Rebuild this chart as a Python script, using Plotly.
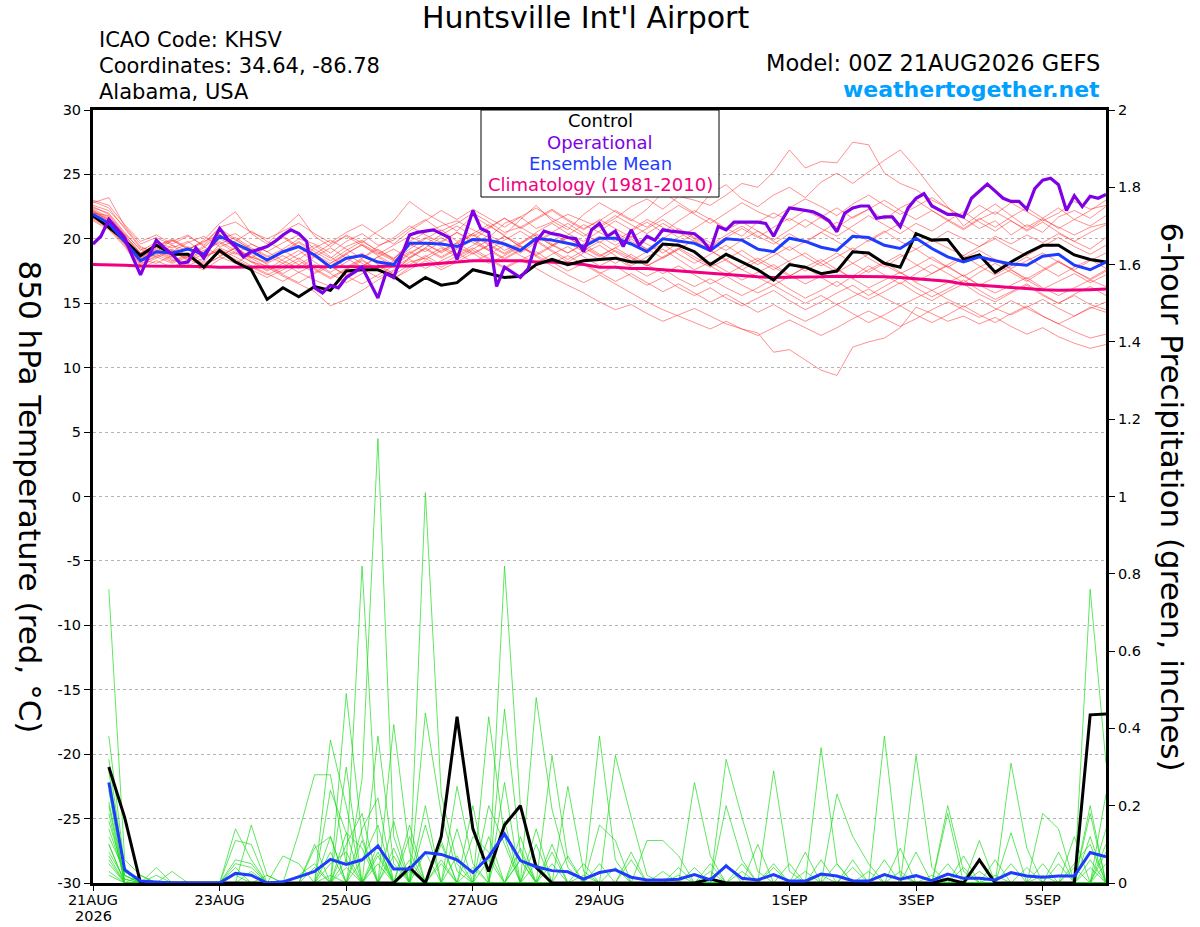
"""
GEFS 集合预报图：850 hPa 温度 + 6 小时降水 (KHSV)
"""

import pandas as pd
import plotly.graph_objects as go

# ---------------- 数据 ----------------
RUN_START = "2026-08-21 00:00"
RUN_END = "2026-09-06 00:00"

tick_dates = ["2026-08-21", "2026-08-23", "2026-08-25", "2026-08-27",
              "2026-08-29", "2026-09-01", "2026-09-03", "2026-09-05"]
tick_labels = ["21AUG", "23AUG", "25AUG", "27AUG",
               "29AUG", "1SEP", "3SEP", "5SEP"]
first_tick_year = "2026"

temp_ticks = [-30, -25, -20, -15, -10, -5, 0, 5, 10, 15, 20, 25, 30]
precip_ticks = [0, 0.2, 0.4, 0.6, 0.8, 1.0, 1.2, 1.4, 1.6, 1.8, 2.0]
precip_tick_labels = ["0", "0.2", "0.4", "0.6", "0.8", "1",
                      "1.2", "1.4", "1.6", "1.8", "2"]

# 6 小时间隔, 00Z 21AUG -> 00Z 6SEP (65 个时次)
control_temp = [
    21.8, 20.9, 19.9, 18.7, 19.5, 18.8, 18.8, 17.8, 19.1, 18.2,
    17.6, 15.3, 16.2, 15.5, 16.3, 16.0, 17.5, 17.6, 17.6, 17.1,
    16.2, 17.0, 16.4, 16.6, 17.6, 17.3, 17.0, 17.1, 18.0, 18.4,
    18.0, 18.3, 18.4, 18.5, 18.2, 18.2, 19.6, 19.5, 19.0, 18.0,
    18.8, 18.2, 17.6, 16.8, 18.0, 17.8, 17.3, 17.5, 19.0, 18.9,
    18.1, 17.8, 20.4, 19.9, 19.95, 18.4, 18.75, 17.4, 18.2, 18.9,
    19.5, 19.5, 18.75, 18.4, 18.2]

mean_temp = [
    21.9, 21.2, 19.8, 18.3, 19.0, 18.9, 19.2, 18.8, 20.2, 19.6,
    19.05, 18.35, 19.0, 19.4, 18.75, 17.8, 18.5, 18.7, 18.2, 18.0,
    19.65, 19.65, 19.6, 19.4, 19.95, 19.9, 19.6, 19.1, 20.05, 19.9,
    19.65, 19.4, 20.05, 20.05, 19.6, 19.0, 20.0, 19.8, 19.65, 19.1,
    20.0, 19.9, 19.2, 19.0, 20.05, 19.8, 19.35, 19.1, 20.2, 20.1,
    19.5, 19.25, 20.05, 19.25, 18.6, 18.2, 18.6, 18.3, 18.05, 17.95,
    18.65, 18.8, 17.95, 17.6, 18.2]

clim_temp = [
    18.0, 18.0, 17.95, 17.9, 17.9, 17.85, 17.85, 17.85, 17.8, 17.8,
    17.8, 17.8, 17.8, 17.8, 17.8, 17.8, 17.8, 17.8, 17.85, 17.9,
    17.9, 18.0, 18.1, 18.2, 18.3, 18.3, 18.3, 18.3, 18.2, 18.2,
    18.1, 18.0, 17.8, 17.8, 17.7, 17.7, 17.6, 17.5, 17.4, 17.3,
    17.2, 17.1, 17.05, 17.0, 17.0, 17.0, 17.05, 17.1, 17.1, 17.1,
    17.05, 17.0, 16.9, 16.8, 16.7, 16.5, 16.4, 16.3, 16.2, 16.1,
    16.05, 16.0, 16.0, 16.05, 16.1]

# 业务模式 (operational) 为 3 小时间隔 (129 个时次)
op_temp = [
    19.6, 20.2, 21.5, 20.8, 20.1, 18.6, 17.2, 18.6, 19.9, 19.3,
    18.8, 18.1, 18.2, 19.3, 18.5, 19.6, 20.8, 20.0, 19.4, 18.6,
    19.0, 19.2, 19.4, 19.8, 20.3, 20.7, 20.4, 19.8, 16.2, 15.8,
    16.4, 16.2, 17.0, 17.4, 17.8, 16.6, 15.4, 17.3, 17.0, 18.7,
    20.3, 20.5, 20.6, 20.7, 20.4, 20.1, 18.4, 20.3, 22.2, 20.8,
    20.5, 16.3, 17.8, 17.4, 17.0, 17.7, 19.8, 20.6, 20.4, 20.3,
    20.1, 20.0, 19.0, 20.7, 21.2, 20.2, 20.6, 19.4, 20.7, 19.5,
    20.2, 19.9, 20.7, 20.6, 20.55, 20.5, 20.4, 19.9, 19.1, 20.95,
    20.7, 21.3, 21.3, 21.3, 21.3, 21.2, 20.2, 21.4, 22.4, 22.3,
    22.2, 22.1, 21.8, 21.4, 20.55, 22.0, 22.4, 22.55, 22.55, 21.6,
    21.7, 21.7, 20.95, 22.4, 23.15, 23.5, 22.55, 22.2, 21.9, 21.9,
    21.7, 23.15, 23.7, 24.25, 23.7, 23.15, 22.9, 22.9, 22.3, 23.9,
    24.55, 24.7, 24.2, 22.2, 23.35, 22.5, 23.3, 23.15, 23.45]

# 集合成员 850 hPa 温度 (红色细线)
temp_members = [
    [22.4, 22.0, 20.5, 19.1, 19.7, 19.3, 19.8, 18.9, 20.0, 20.4, 19.6,
     19.0, 19.7, 20.3, 19.2, 18.5, 19.4, 19.9, 19.0, 18.4, 19.8, 20.5,
     21.0, 21.4, 20.7, 20.1, 21.2, 21.7, 20.8, 21.3, 21.9, 21.4, 20.9,
     21.6, 22.5, 23.1, 22.3, 23.3, 23.0, 22.6, 23.4, 24.3, 24.0, 25.2,
     26.9, 25.5, 26.0, 25.9, 27.5, 27.3, 25.1, 24.3, 23.8, 23.0, 22.4,
     21.6, 20.8, 21.4, 20.3, 21.1, 20.5, 21.7, 22.2, 21.6, 22.5],
    [22.8, 23.2, 21.0, 19.6, 20.1, 19.5, 19.1, 19.9, 21.2, 22.1, 20.4,
     19.6, 20.8, 21.9, 20.2, 19.4, 20.3, 19.7, 20.6, 21.4, 22.9, 22.0,
     21.3, 20.6, 21.8, 21.0, 20.3, 21.5, 22.6, 21.4, 20.7, 21.9, 22.8,
     22.1, 21.4, 22.3, 23.6, 22.8, 22.0, 23.5, 24.2, 23.1, 22.5, 23.4,
     24.0, 23.2, 24.4, 25.1, 24.3, 25.2, 26.1, 26.9, 25.5, 23.9, 22.5,
     21.0, 21.9, 22.7, 21.8, 20.9, 21.6, 22.4, 21.5, 22.2, 23.0],
    [22.1, 21.5, 20.2, 18.8, 19.4, 19.8, 20.3, 19.4, 20.6, 19.9, 19.2,
     18.6, 19.2, 20.0, 19.6, 18.9, 19.8, 20.4, 19.5, 19.9, 20.8, 21.5,
     20.6, 21.2, 22.0, 21.3, 20.5, 20.9, 21.6, 22.3, 21.5, 20.8, 21.4,
     22.2, 21.5, 20.9, 21.8, 22.6, 21.9, 21.2, 22.0, 22.8, 22.1, 21.6,
     22.4, 23.1, 22.5, 21.8, 22.7, 23.4, 22.6, 21.9, 22.5, 23.2, 22.4,
     21.7, 22.6, 21.9, 22.8, 22.1, 21.4, 22.0, 22.9, 22.3, 22.6],
    [21.8, 21.0, 19.6, 18.0, 18.7, 19.5, 18.6, 19.3, 20.4, 19.2, 18.5,
     19.4, 20.1, 19.3, 18.6, 17.9, 18.8, 19.6, 18.9, 18.3, 19.2, 20.0,
     20.7, 19.8, 20.4, 21.1, 20.2, 19.6, 20.5, 21.2, 20.4, 19.8, 20.6,
     21.4, 20.7, 21.5, 20.9, 20.1, 20.8, 21.6, 20.8, 20.2, 21.3, 22.0,
     21.4, 22.2, 21.6, 20.9, 21.7, 22.3, 21.5, 22.4, 23.0, 22.2, 21.5,
     20.8, 21.6, 20.9, 21.7, 22.4, 21.6, 20.8, 21.5, 21.0, 21.8],
    [22.6, 22.2, 20.9, 19.4, 18.9, 19.0, 19.7, 20.2, 19.4, 19.8, 20.6,
     19.8, 19.1, 18.4, 19.3, 19.9, 19.2, 18.5, 19.4, 20.1, 21.0, 20.3,
     19.7, 20.5, 19.9, 20.8, 21.6, 20.9, 20.2, 19.5, 20.3, 21.1, 20.5,
     19.8, 20.6, 21.3, 20.5, 21.4, 22.2, 21.5, 20.7, 21.3, 20.6, 19.9,
     20.7, 21.5, 20.8, 20.2, 21.0, 21.8, 21.1, 20.4, 21.2, 20.6, 21.4,
     22.1, 21.3, 20.6, 21.4, 20.7, 21.5, 20.9, 20.3, 20.9, 21.2],
    [21.6, 21.3, 20.0, 18.5, 19.3, 18.6, 18.9, 18.2, 19.6, 20.1, 19.3,
     18.7, 18.1, 18.8, 19.5, 18.6, 17.8, 18.5, 19.2, 18.4, 19.6, 19.0,
     19.8, 20.5, 19.7, 19.1, 19.9, 20.6, 19.8, 20.5, 21.2, 20.4, 19.7,
     20.5, 19.8, 19.2, 20.0, 20.8, 20.1, 19.5, 20.3, 21.0, 20.2, 19.6,
     20.4, 19.7, 20.5, 21.3, 20.6, 19.8, 20.5, 21.2, 20.4, 19.8, 20.6,
     20.0, 19.4, 20.2, 19.6, 20.3, 19.7, 20.4, 19.8, 19.2, 20.1],
    [22.3, 21.7, 20.3, 18.9, 19.6, 19.1, 18.4, 19.0, 19.8, 19.1, 18.6,
     18.2, 18.9, 19.7, 18.8, 18.1, 18.9, 19.5, 18.7, 18.0, 18.9, 19.6,
     19.0, 19.7, 20.4, 19.6, 18.9, 19.6, 20.3, 19.5, 18.9, 19.6, 20.2,
     19.5, 20.2, 19.6, 18.9, 19.7, 20.4, 19.7, 19.1, 19.9, 20.6, 19.8,
     19.1, 19.8, 20.5, 19.8, 19.1, 19.9, 20.6, 19.8, 19.2, 19.9, 19.3,
     18.7, 19.4, 20.0, 19.3, 18.7, 19.4, 20.1, 19.4, 18.8, 19.5],
    [21.5, 20.8, 19.5, 17.9, 18.5, 19.1, 18.3, 18.8, 20.0, 19.4, 18.3,
     17.6, 18.4, 19.1, 18.2, 17.4, 18.2, 18.9, 18.0, 17.3, 18.6, 19.3,
     18.6, 19.3, 20.0, 19.2, 18.5, 19.2, 19.9, 19.1, 18.4, 19.1, 19.8,
     19.0, 18.3, 19.0, 19.6, 18.8, 18.1, 18.8, 19.5, 18.7, 18.0, 18.7,
     19.4, 18.6, 17.9, 18.6, 19.3, 18.5, 17.8, 18.6, 19.2, 18.4, 17.8,
     18.5, 19.1, 18.4, 17.7, 18.3, 18.9, 18.2, 17.6, 18.3, 18.9],
    [22.0, 21.4, 19.9, 18.6, 19.2, 18.5, 19.4, 18.6, 19.3, 18.8, 19.6,
     19.0, 18.3, 17.7, 18.6, 19.3, 18.5, 17.8, 18.6, 19.2, 18.5, 19.3,
     20.1, 19.4, 18.8, 19.5, 20.2, 19.4, 18.7, 19.4, 20.1, 19.3, 18.6,
     19.3, 20.0, 19.2, 18.5, 19.2, 19.9, 19.1, 18.4, 17.6, 18.3, 19.0,
     18.2, 17.5, 18.2, 18.9, 18.1, 17.4, 18.1, 18.8, 18.0, 17.3, 18.0,
     18.7, 17.9, 17.2, 17.9, 18.6, 17.8, 17.1, 17.8, 18.4, 17.7],
    [22.9, 22.4, 20.8, 19.3, 19.0, 19.9, 19.2, 19.7, 20.8, 20.0, 19.1,
     18.4, 19.0, 19.8, 19.0, 18.3, 19.1, 19.8, 19.1, 18.5, 19.4, 20.1,
     19.4, 18.8, 19.5, 20.3, 19.6, 18.9, 19.7, 20.4, 19.7, 19.0, 18.4,
     19.1, 18.5, 17.9, 18.6, 19.3, 18.6, 17.9, 17.2, 17.9, 18.5, 17.8,
     17.1, 17.8, 18.4, 17.6, 16.9, 17.6, 18.2, 17.4, 16.7, 17.3, 17.9,
     17.1, 16.4, 17.0, 17.6, 16.8, 16.1, 16.7, 17.3, 16.6, 17.2],
    [21.7, 21.1, 19.7, 18.2, 18.8, 18.2, 18.7, 18.0, 18.6, 18.1, 18.8,
     18.0, 17.3, 18.0, 18.7, 17.9, 17.2, 17.9, 18.6, 17.8, 18.5, 19.2,
     18.5, 19.2, 19.9, 19.1, 18.4, 19.1, 19.8, 19.0, 18.2, 18.9, 19.5,
     18.7, 17.9, 18.6, 19.2, 18.4, 17.6, 18.2, 17.5, 16.8, 17.4, 18.0,
     17.2, 16.5, 17.1, 17.7, 16.9, 16.2, 16.8, 17.4, 16.6, 16.0, 16.6,
     17.2, 16.4, 15.8, 16.4, 17.0, 16.2, 15.6, 16.2, 16.8, 16.3],
    [22.2, 21.6, 20.1, 18.4, 18.1, 18.7, 18.0, 17.6, 18.4, 19.0, 18.2,
     17.5, 18.1, 17.4, 16.8, 16.3, 17.0, 17.7, 17.0, 17.6, 18.4, 17.7,
     18.3, 18.9, 18.2, 18.8, 19.5, 18.7, 18.1, 18.8, 19.4, 18.6, 17.9,
     18.5, 17.8, 17.1, 17.7, 16.9, 16.3, 16.9, 16.2, 15.6, 16.2, 16.9,
     16.1, 15.4, 16.0, 16.7, 15.9, 15.3, 15.9, 16.6, 15.8, 15.2, 15.9,
     16.5, 15.7, 15.1, 15.8, 16.4, 15.6, 15.0, 15.7, 16.3, 15.6],
    [21.9, 21.2, 19.8, 18.7, 19.4, 20.0, 19.3, 18.6, 19.1, 18.4, 17.8,
     17.2, 17.8, 18.5, 17.7, 17.0, 17.7, 18.4, 17.6, 16.9, 17.8, 18.6,
     19.3, 18.6, 19.2, 19.9, 19.1, 19.7, 20.4, 19.6, 18.9, 19.6, 18.8,
     18.1, 18.8, 18.0, 17.3, 17.9, 17.2, 16.5, 17.1, 16.4, 15.8, 16.4,
     15.7, 15.0, 15.6, 14.9, 15.5, 16.1, 15.4, 14.8, 15.4, 16.0, 15.3,
     14.7, 15.3, 14.6, 14.1, 14.7, 15.3, 14.6, 14.0, 14.6, 15.1],
    [22.5, 21.9, 20.4, 19.2, 18.6, 19.2, 18.5, 19.1, 19.7, 18.9, 18.2,
     17.9, 17.2, 16.6, 17.3, 17.9, 17.1, 16.5, 17.2, 17.9, 18.8, 19.6,
     18.9, 19.6, 20.3, 19.5, 18.8, 19.5, 18.7, 18.1, 18.7, 18.0, 17.3,
     17.9, 17.1, 16.4, 17.0, 16.2, 15.6, 16.2, 15.4, 14.8, 15.4, 16.0,
     15.2, 14.5, 15.1, 15.8, 16.4, 15.6, 16.3, 17.0, 16.2, 15.5, 16.1,
     16.8, 16.0, 15.3, 15.9, 16.5, 15.7, 15.0, 15.6, 14.9, 14.5],
    [21.4, 20.7, 19.4, 17.7, 18.3, 17.8, 18.4, 17.9, 18.6, 19.3, 18.5,
     17.8, 17.1, 16.5, 15.9, 14.8, 15.3, 16.0, 16.8, 17.5, 18.2, 18.5,
     17.8, 18.4, 19.1, 18.4, 17.7, 18.3, 19.0, 18.2, 17.5, 18.1, 17.4,
     16.7, 17.3, 16.6, 15.9, 16.5, 15.8, 15.1, 15.7, 15.0, 14.3, 14.9,
     14.2, 13.6, 14.2, 14.9, 14.2, 13.5, 14.1, 14.8, 14.1, 13.5, 14.1,
     14.8, 14.1, 13.5, 14.2, 14.8, 14.0, 13.4, 14.0, 14.7, 14.3],
    [23.0, 22.6, 21.1, 19.8, 20.3, 19.6, 20.2, 19.5, 20.9, 21.3, 20.5,
     20.0, 20.6, 21.2, 20.4, 19.7, 20.5, 21.1, 20.3, 19.6, 20.6, 21.4,
     22.2, 21.5, 22.3, 21.6, 20.9, 21.7, 22.4, 21.6, 20.9, 20.2, 21.0,
     21.8, 21.1, 20.4, 21.2, 20.5, 19.8, 19.1, 18.3, 17.6, 17.0, 16.4,
     17.1, 17.8, 17.0, 16.3, 17.1, 17.9, 17.2, 16.5, 17.3, 18.0, 17.3,
     16.6, 17.4, 18.1, 17.4, 16.7, 17.5, 18.2, 17.5, 16.9, 17.6],
    [22.0, 21.8, 20.3, 18.9, 19.5, 19.9, 19.2, 19.8, 20.3, 19.5, 18.9,
     19.5, 20.2, 19.4, 18.8, 19.6, 20.2, 19.5, 18.8, 19.5, 20.2, 19.6,
     20.3, 21.0, 20.2, 20.9, 21.6, 20.8, 21.5, 22.2, 21.4, 20.7, 21.5,
     20.8, 20.1, 20.8, 21.5, 20.7, 20.0, 19.4, 20.1, 20.8, 20.1, 20.9,
     21.6, 20.9, 21.7, 22.4, 21.6, 22.3, 23.0, 22.2, 21.5, 22.2, 21.4,
     20.7, 21.5, 22.1, 21.4, 20.6, 21.3, 20.5, 19.8, 20.5, 21.1],
    [21.6, 20.9, 19.6, 18.1, 18.6, 18.1, 18.6, 18.1, 18.9, 18.3, 17.6,
     17.0, 17.6, 18.3, 17.6, 16.9, 17.6, 18.3, 17.6, 16.9, 17.6, 18.3,
     17.6, 18.2, 18.9, 18.1, 18.7, 19.4, 18.6, 17.9, 17.2, 16.6, 17.2,
     16.5, 15.8, 15.1, 14.5, 14.0, 13.5, 13.0, 13.6, 13.0, 12.5, 13.1,
     13.7, 13.1, 12.5, 13.1, 13.8, 14.4, 13.8, 13.2, 13.8, 14.5, 15.1,
     14.5, 13.9, 14.5, 15.2, 14.6, 14.0, 13.4, 12.8, 12.3, 12.6],
    [22.1, 21.5, 20.1, 18.5, 19.1, 18.4, 17.9, 18.5, 19.2, 18.6, 17.9,
     17.3, 16.7, 17.4, 18.0, 17.3, 16.6, 17.3, 17.9, 17.2, 18.0, 18.7,
     18.0, 18.7, 19.3, 18.5, 17.8, 18.4, 17.7, 17.0, 16.4, 15.8, 15.1,
     14.5, 14.9, 14.2, 13.6, 14.1, 14.6, 14.0, 13.4, 13.0, 12.7, 11.2,
     11.4, 10.6, 9.8, 9.4, 11.6, 12.0, 12.3, 13.1, 14.7, 14.2, 13.6,
     14.0, 13.4, 13.9, 13.2, 12.6, 13.1, 12.4, 11.9, 11.5, 11.8],
    [22.2, 21.3, 19.9, 18.4, 19.0, 18.3, 18.8, 19.4, 18.7, 19.3, 18.6,
     18.1, 18.7, 18.0, 17.4, 18.1, 18.8, 18.1, 17.5, 18.3, 19.0, 18.4,
     19.1, 19.7, 18.9, 19.5, 20.2, 19.4, 18.8, 19.5, 20.1, 19.4, 18.7,
     19.3, 18.6, 17.9, 18.5, 19.2, 18.4, 17.8, 18.4, 19.1, 18.3, 17.6,
     18.3, 18.9, 18.1, 17.4, 18.1, 18.8, 18.0, 17.3, 17.9, 18.6, 17.8,
     17.1, 17.8, 18.4, 17.6, 16.9, 17.6, 18.3, 17.5, 16.8, 17.5],
]

# 6 小时降水, 06Z 21AUG -> 00Z 6SEP (64 个时次)
control_precip = [
    .30, .17, 0, 0, 0, 0, 0, 0, 0, 0, 0, 0, 0, 0, 0, 0,
    0, 0, 0, .04, 0, .12, .43, .14, .03, .15, .20, .04, 0, 0, 0, 0,
    0, 0, 0, 0, 0, 0, .01, 0, 0, 0, 0, 0, 0, 0, 0, 0,
    0, 0, 0, 0, 0, .01, 0, .06, 0, 0, 0, 0, 0, 0, .435, .437]

mean_precip = [
    .26, .034, .005, .003, 0, 0, 0, 0, .025, .02, 0, .003, .016, .03, .061, .048,
    .06, .096, .036, .036, .079, .074, .06, .027, .068, .127, .058, .042, .032, .029, .01, .027,
    .034, .015, .008, .008, .01, .022, .008, .044, .012, .008, .022, .005, .005, .023, .018, .006,
    .005, .022, .01, .019, .006, .023, .012, .012, .008, .027, .018, .015, .018, .018, .079, .068]

# 集合成员降水 (绿色细线)
precip_members = [
    [.76, .06, .02, 0, 0, 0, 0, 0, 0, 0, 0, 0, 0, 0, 0, 0,
     .27, 1.15, .12, 0, 0, 0, 0, 0, 0, 0, 0, .05, 0, 0, 0, 0,
     0, 0, 0, 0, 0, 0, 0, 0, 0, 0, .29, .03, 0, 0, 0, 0,
     0, 0, 0, 0, 0, 0, 0, 0, 0, 0, 0, 0, 0, 0, .76, .31],
    [.38, .04, 0, 0, 0, 0, 0, 0, 0, 0, 0, 0, 0, 0, .37, .2,
     0, 0, 0, 0, 1.01, .23, .05, 0, 0, 0, 0, 0, 0, 0, 0, .38,
     .06, 0, 0, 0, 0, 0, 0, 0, 0, 0, 0, 0, 0, 0, 0, 0,
     0, 0, 0, 0, 0, .2, .03, 0, 0, 0, 0, 0, 0, 0, 0, 0],
    [.32, .03, 0, 0, 0, 0, 0, 0, .14, .06, 0, 0, 0, 0, 0, .49,
     .12, 0, 0, 0, 0, 0, 0, 0, 0, .82, .2, .05, 0, 0, 0, 0,
     0, 0, 0, 0, 0, 0, 0, 0, 0, 0, 0, 0, 0, .35, .05, 0,
     0, 0, 0, 0, 0, 0, 0, 0, 0, 0, 0, 0, 0, 0, 0, 0],
    [.29, .02, 0, 0, 0, 0, 0, 0, 0, 0, 0, 0, .13, .28, .28, .05,
     .82, .1, 0, 0, 0, 0, 0, 0, 0, 0, 0, 0, .33, .06, 0, 0,
     0, 0, 0, 0, 0, 0, 0, 0, 0, 0, 0, 0, 0, 0, 0, 0,
     0, .38, .02, 0, 0, 0, 0, 0, 0, 0, 0, 0, 0, 0, 0, 0],
    [.24, 0, 0, .04, 0, 0, 0, 0, 0, .15, .02, 0, 0, 0, 0, 0,
     0, .38, .05, 0, 0, 0, 0, 0, .43, .12, 0, 0, 0, 0, 0, 0,
     0, 0, 0, 0, 0, 0, 0, .32, .17, .03, 0, 0, 0, 0, 0, 0,
     0, 0, 0, 0, 0, 0, 0, 0, 0, 0, 0, 0, 0, 0, 0, .23],
    [.21, .01, 0, 0, 0, 0, 0, 0, 0, 0, 0, 0, 0, 0, .24, .13,
     0, 0, .41, .08, 0, 0, 0, 0, 0, 0, 0, .48, .19, .04, 0, 0,
     0, 0, 0, 0, 0, 0, 0, 0, 0, 0, 0, 0, 0, 0, 0, 0,
     0, 0, 0, 0, 0, 0, 0, 0, 0, .31, .09, 0, 0, 0, 0, 0],
    [.16, .02, 0, 0, 0, 0, 0, 0, .11, .1, 0, 0, 0, 0, 0, 0,
     0, 0, 0, 0, .44, .18, .03, 0, 0, 0, 0, 0, 0, 0, 0, 0,
     .33, .17, .02, 0, 0, 0, 0, 0, 0, 0, 0, 0, 0, 0, 0, 0,
     0, 0, 0, .33, .04, 0, 0, 0, 0, 0, 0, 0, 0, 0, 0, 0],
    [.12, .03, 0, 0, .03, 0, 0, 0, 0, 0, 0, 0, 0, .09, .12, 0,
     0, 0, 0, 0, 0, 0, .25, .05, 0, .45, .08, 0, 0, 0, 0, 0,
     0, 0, 0, 0, 0, .26, .07, 0, 0, 0, 0, 0, 0, 0, 0, 0,
     0, 0, 0, 0, 0, 0, 0, 0, 0, 0, 0, .18, .14, 0, 0, 0],
    [.1, 0, 0, 0, 0, 0, 0, 0, .05, .04, 0, 0, 0, 0, 0, .13,
     .09, 0, 0, 0, 0, 0, 0, 0, 0, 0, .12, 0, 0, .25, .03, 0,
     0, 0, 0, 0, 0, 0, 0, 0, 0, 0, 0, 0, 0, 0, .23, .12,
     .05, 0, 0, 0, 0, 0, 0, 0, 0, 0, 0, 0, 0, 0, .18, 0],
    [.08, .01, 0, 0, 0, 0, 0, 0, 0, 0, 0, .07, .05, 0, 0, 0,
     .06, .15, 0, 0, 0, .1, 0, 0, 0, 0, 0, 0, 0, 0, 0, .15,
     .11, 0, 0, 0, 0, 0, 0, .2, .06, 0, 0, 0, 0, 0, 0, 0,
     0, 0, 0, 0, 0, .18, 0, .11, 0, 0, 0, 0, 0, .12, 0, 0],
    [.05, 0, 0, 0, 0, 0, 0, 0, .06, .05, 0, 0, 0, 0, .05, .08,
     0, 0, 0, .06, 0, 0, 0, .12, .08, 0, 0, 0, 0, 0, 0, 0,
     0, 0, .11, .11, .07, 0, 0, 0, 0, 0, .05, 0, 0, 0, 0, 0,
     0, 0, 0, 0, 0, 0, 0, 0, 0, .13, 0, 0, 0, .05, .1, 0],
    [.2, 0, .02, 0, 0, 0, 0, 0, 0, 0, 0, 0, .02, .05, 0, 0,
     0, .07, 0, 0, .15, 0, .07, 0, 0, 0, 0, 0, 0, 0, 0, 0,
     0, .06, 0, 0, 0, 0, 0, 0, 0, .1, 0, 0, .08, 0, 0, .04,
     0, 0, 0, 0, 0, 0, 0, 0, .06, 0, 0, 0, .05, 0, 0, .1],
    [.14, .02, 0, 0, 0, 0, 0, 0, 0, 0, 0, 0, 0, 0, 0, .1,
     .18, 0, .07, 0, 0, 0, 0, 0, .06, 0, .09, 0, .1, 0, 0, 0,
     0, 0, 0, 0, 0, 0, .05, 0, 0, 0, 0, 0, .03, 0, 0, 0,
     0, 0, .09, 0, 0, 0, .07, 0, 0, 0, 0, 0, 0, 0, .12, 0],
    [.06, 0, 0, 0, 0, 0, 0, 0, .04, 0, 0, 0, 0, 0, .12, 0,
     0, .05, 0, .12, 0, .05, 0, 0, 0, 0, 0, .14, 0, 0, .05, 0,
     0, 0, 0, 0, .04, 0, 0, 0, 0, 0, 0, .05, 0, 0, 0, 0,
     .03, 0, 0, 0, 0, 0, 0, .06, 0, 0, .04, 0, 0, 0, 0, .14],
    [.03, 0, 0, 0, 0, 0, 0, 0, 0, 0, 0, 0, 0, .04, 0, 0,
     .14, .22, 0, 0, .08, 0, 0, .04, 0, .16, 0, 0, 0, .07, 0, 0,
     0, 0, 0, .03, 0, 0, 0, 0, .05, 0, 0, 0, 0, .06, 0, 0,
     0, 0, 0, 0, .02, 0, 0, 0, 0, 0, 0, .05, 0, 0, .06, 0],
    [.18, 0, 0, .02, 0, 0, 0, 0, 0, .03, 0, 0, 0, 0, 0, .06,
     0, 0, .16, 0, 0, .11, 0, 0, .2, .1, 0, 0, 0, 0, 0, .05,
     0, 0, 0, 0, 0, .04, 0, 0, 0, 0, 0, 0, 0, 0, .05, 0,
     0, 0, 0, 0, 0, .05, 0, 0, 0, 0, 0, 0, .08, 0, 0, .05],
    [.1, 0, 0, 0, 0, 0, 0, 0, 0, 0, .02, 0, 0, 0, .02, 0,
     .11, 0, 0, .03, 0, 0, .14, 0, 0, 0, .06, 0, .05, 0, 0, 0,
     0, .08, 0, 0, 0, 0, 0, 0, 0, 0, .04, 0, 0, 0, 0, 0,
     0, .06, 0, 0, 0, 0, 0, 0, 0, .05, 0, 0, 0, .04, 0, 0],
    [.26, .04, 0, 0, 0, 0, 0, 0, 0, 0, 0, 0, 0, .1, 0, .3,
     0, .08, 0, 0, .2, 0, 0, 0, .12, 0, 0, 0, .08, 0, 0, 0,
     0, 0, 0, 0, .02, 0, 0, .05, 0, 0, 0, 0, 0, 0, 0, 0,
     0, 0, 0, .08, 0, 0, 0, .03, 0, 0, 0, 0, 0, 0, .2, 0],
    [.07, 0, 0, 0, 0, 0, 0, 0, .02, 0, 0, 0, 0, 0, .08, 0,
     0, .1, 0, .15, 0, 0, 0, .2, 0, 0, .06, 0, 0, 0, .02, 0,
     0, 0, 0, 0, 0, 0, 0, 0, .03, 0, 0, 0, 0, 0, 0, .06,
     0, 0, 0, 0, 0, 0, .04, 0, 0, 0, 0, .02, 0, 0, 0, .08],
    [.02, 0, 0, 0, 0, 0, 0, 0, 0, 0, 0, 0, 0, 0, 0, .04,
     0, 0, .09, 0, 0, .06, 0, 0, 0, .26, 0, .1, 0, 0, 0, 0,
     .04, 0, 0, 0, 0, 0, .03, 0, 0, 0, 0, 0, 0, .02, 0, 0,
     0, 0, .03, 0, 0, 0, 0, 0, .02, 0, 0, 0, 0, 0, .04, 0],
]

# ---------------- 样式 ----------------
RED = "rgba(255,40,40,0.65)"
GREEN = "rgba(20,220,20,0.85)"
PURPLE = "#8000e6"
BLUE = "#1e3cff"
MAGENTA = "#f0007f"
FONT = "DejaVu Sans"

# 绘图区在画布上的像素位置
PLOT_L, PLOT_R, PLOT_T, PLOT_B = 93, 1106, 110, 883


def px_to_paper(x=None, y=None):
    """画布像素 -> paper 坐标"""
    if x is not None:
        return (x - PLOT_L) / (PLOT_R - PLOT_L)
    return (PLOT_B - y) / (PLOT_B - PLOT_T)


def build_figure() -> go.Figure:
    temp_times = pd.date_range(RUN_START, RUN_END, freq="6h")
    op_times = pd.date_range(RUN_START, RUN_END, freq="3h")
    precip_times = pd.date_range("2026-08-21 06:00", RUN_END, freq="6h")

    fig = go.Figure()

    # 1. 集合成员
    for member in temp_members:
        fig.add_trace(go.Scatter(x=temp_times, y=member, mode="lines",
                                 line=dict(color=RED, width=0.8),
                                 hoverinfo="skip", yaxis="y"))
    for member in precip_members:
        fig.add_trace(go.Scatter(x=precip_times, y=member, mode="lines",
                                 line=dict(color=GREEN, width=0.8),
                                 hoverinfo="skip", yaxis="y2"))

    # 2. 降水：控制 + 集合平均
    fig.add_trace(go.Scatter(x=precip_times, y=control_precip, mode="lines",
                             line=dict(color="black", width=3), yaxis="y2"))
    fig.add_trace(go.Scatter(x=precip_times, y=mean_precip, mode="lines",
                             line=dict(color=BLUE, width=3), yaxis="y2"))

    # 3. 温度：气候态、控制、集合平均、业务模式
    fig.add_trace(go.Scatter(x=temp_times, y=clim_temp, mode="lines",
                             line=dict(color=MAGENTA, width=3), yaxis="y"))
    fig.add_trace(go.Scatter(x=temp_times, y=control_temp, mode="lines",
                             line=dict(color="black", width=3), yaxis="y"))
    fig.add_trace(go.Scatter(x=temp_times, y=mean_temp, mode="lines",
                             line=dict(color=BLUE, width=3), yaxis="y"))
    fig.add_trace(go.Scatter(x=op_times, y=op_temp, mode="lines",
                             line=dict(color=PURPLE, width=3.2), yaxis="y"))

    axis_common = dict(ticks="outside", tickwidth=1,
                       tickcolor="black", showline=True, linecolor="black",
                       linewidth=3, zeroline=False, automargin=False,
                       tickfont=dict(size=14.5, color="black"))

    fig.update_layout(
        width=1200, height=927,
        margin=dict(l=PLOT_L, r=1200 - PLOT_R, t=PLOT_T, b=927 - PLOT_B),
        paper_bgcolor="white", plot_bgcolor="white",
        font=dict(family=FONT, color="black"),
        showlegend=False, hovermode=False,
        xaxis=dict(type="date", range=[RUN_START, RUN_END],
                   tickvals=tick_dates, ticktext=tick_labels,
                   ticklen=5, ticklabelstandoff=-3,
                   showgrid=False, mirror=True, **axis_common),
        yaxis=dict(range=[-30, 30], tickvals=temp_ticks,
                   ticktext=[str(t) for t in temp_ticks], ticklen=6,
                   showgrid=True, gridcolor="#b4b4b4", griddash="dot",
                   gridwidth=1, **axis_common),
        yaxis2=dict(range=[0, 2], overlaying="y", side="right",
                    tickvals=precip_ticks, ticktext=precip_tick_labels,
                    ticklen=6, showgrid=False, **axis_common),
    )

    # 第一个日期刻度下方的年份
    fig.add_annotation(text=first_tick_year, xref="paper", yref="paper",
                       x=0, y=px_to_paper(y=916), xanchor="center",
                       yanchor="middle", showarrow=False,
                       font=dict(size=14.5, color="black"))

    # 图例框
    fig.add_shape(type="rect", xref="paper", yref="paper", layer="above",
                  x0=px_to_paper(x=481), x1=px_to_paper(x=719),
                  y0=px_to_paper(y=197), y1=1.0,
                  line=dict(color="black", width=1), fillcolor="white")

    legend_items = [("Control", "black", 121),
                    ("Operational", PURPLE, 142),
                    ("Ensemble Mean", BLUE, 163),
                    ("Climatology (1981-2010)", MAGENTA, 185)]
    for text, color, ypx in legend_items:
        fig.add_annotation(text=text, xref="paper", yref="paper",
                           x=px_to_paper(x=600), y=px_to_paper(y=ypx),
                           xanchor="center", yanchor="middle", showarrow=False,
                           font=dict(size=18, color=color))

    # 标题与站点信息
    header = [
        ("Huntsville Int'l Airport", 585, 18, "center", 30, "black", False),
        ("ICAO Code: KHSV", 97, 40, "left", 21, "black", False),
        ("Coordinates: 34.64, -86.78", 97, 66, "left", 21, "black", False),
        ("Alabama, USA", 97, 92, "left", 21, "black", False),
        ("Model: 00Z 21AUG2026 GEFS", 1102, 63, "right", 22.5, "black", False),
        ("weathertogether.net", 1102, 89, "right", 22, "rgb(0,160,255)", True),
    ]
    for text, xpx, ypx, anchor, size, color, bold in header:
        fig.add_annotation(text=f"<b>{text}</b>" if bold else text,
                           xref="paper", yref="paper",
                           x=px_to_paper(x=xpx), y=px_to_paper(y=ypx),
                           xanchor=anchor, yanchor="middle", showarrow=False,
                           font=dict(size=size, color=color))

    # 坐标轴标题 (竖排)
    fig.add_annotation(text="850 hPa Temperature (red, °C)",
                       xref="paper", yref="paper",
                       x=px_to_paper(x=30), y=0.5, textangle=90,
                       xanchor="center", yanchor="middle", showarrow=False,
                       font=dict(size=31, color="black"))
    fig.add_annotation(text="6-hour Precipitation (green, inches)",
                       xref="paper", yref="paper",
                       x=px_to_paper(x=1172), y=0.5, textangle=90,
                       xanchor="center", yanchor="middle", showarrow=False,
                       font=dict(size=31, color="black"))

    return fig


def main():
    fig = build_figure()
    fig.write_html("out.html", config={"displayModeBar": False},
                   post_script="document.body.style.margin='0';")
    print("saved out.html")


if __name__ == "__main__":
    main()
